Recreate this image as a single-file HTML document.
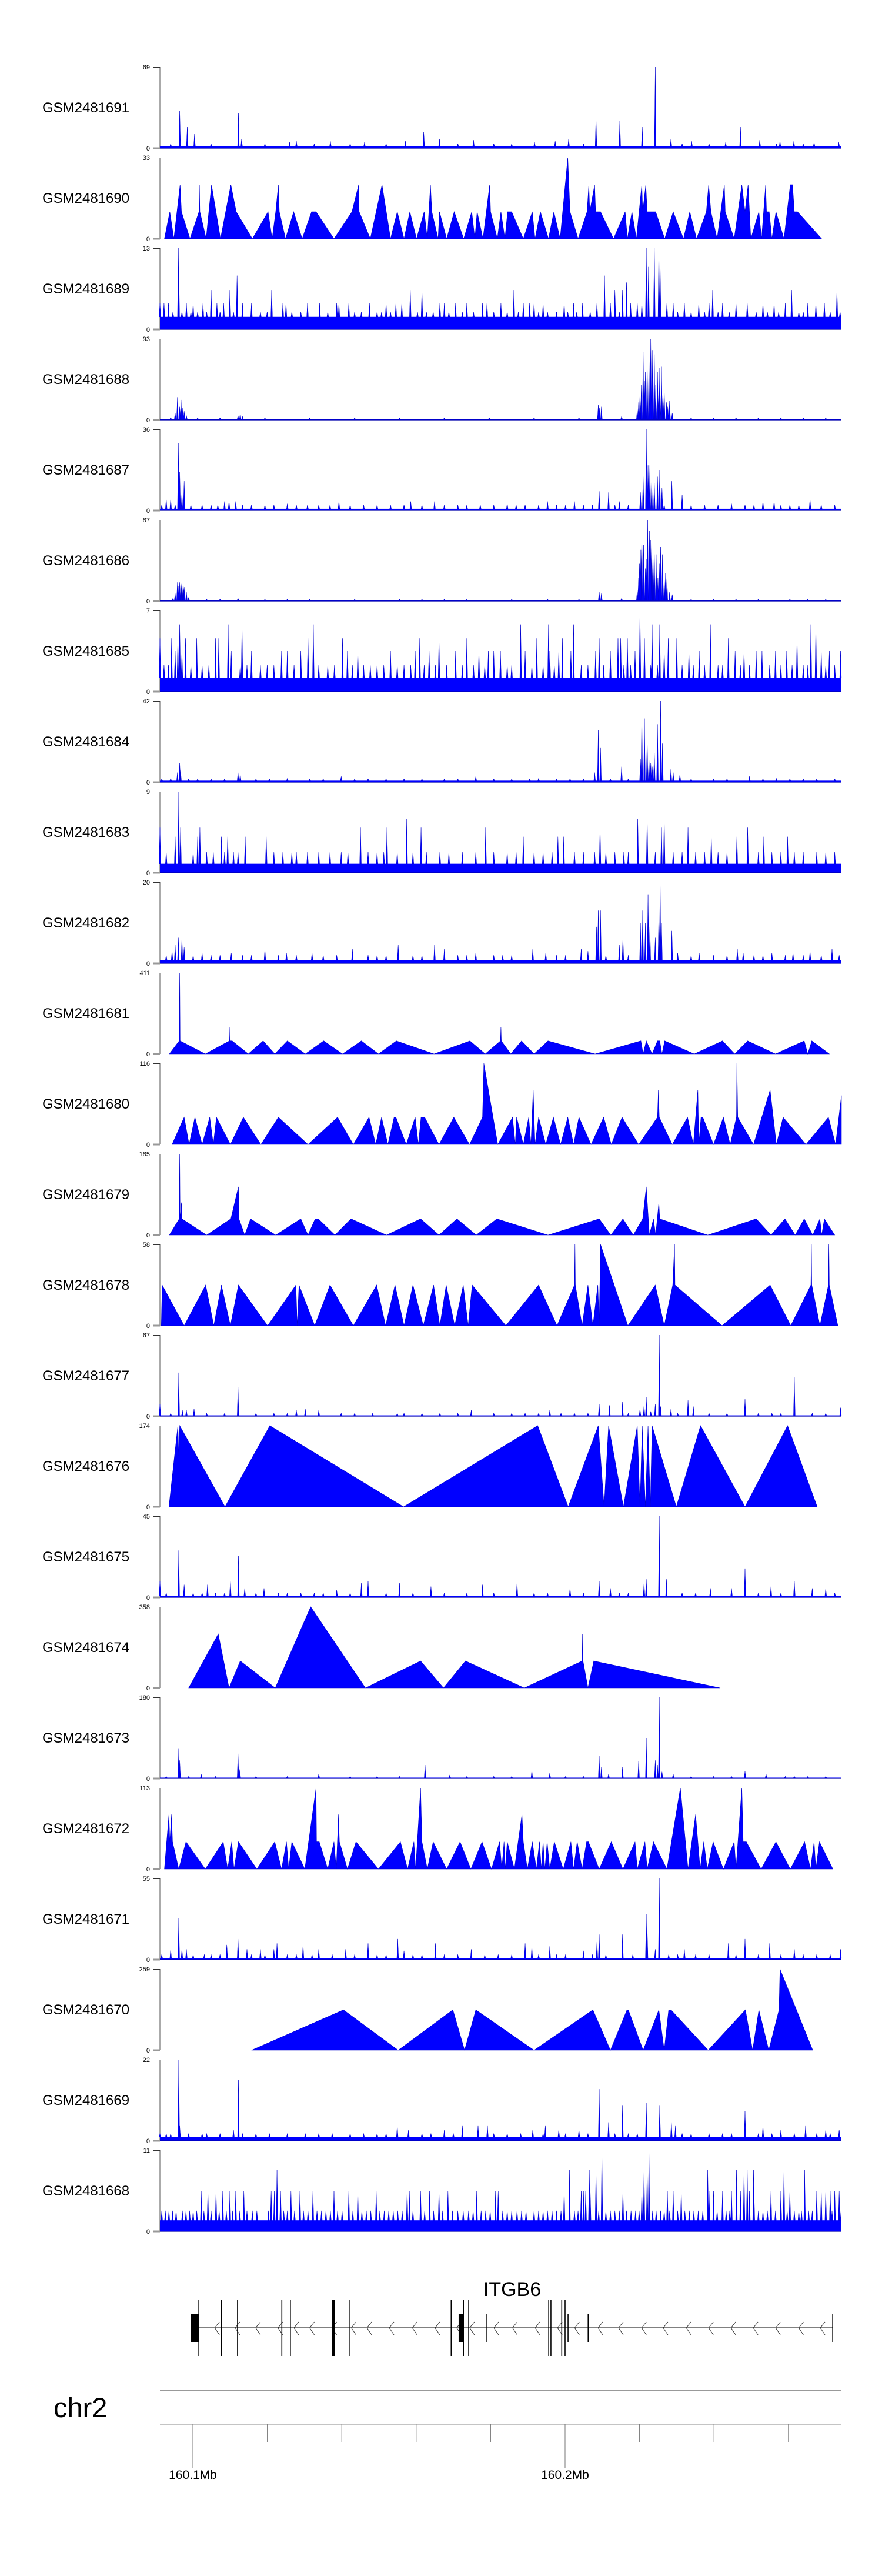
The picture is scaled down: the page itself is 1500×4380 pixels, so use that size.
<!DOCTYPE html>
<html><head><meta charset="utf-8"><title>Gviz data tracks</title>
<style>
html,body{margin:0;padding:0;background:#fff;}
svg{display:block;font-family:"Liberation Sans",Arial,sans-serif;}
</style></head>
<body>
<svg id="chart" width="1500" height="4380" viewBox="0 0 1500 4380" xmlns="http://www.w3.org/2000/svg">
<g id="tracks"></g>
<g id="gene"></g>
<g id="axis"></g>
</svg>
<script>
// ---------- data ----------
const trackNames=["GSM2481691","GSM2481690","GSM2481689","GSM2481688","GSM2481687","GSM2481686","GSM2481685","GSM2481684","GSM2481683","GSM2481682","GSM2481681","GSM2481680","GSM2481679","GSM2481678","GSM2481677","GSM2481676","GSM2481675","GSM2481674","GSM2481673","GSM2481672","GSM2481671","GSM2481670","GSM2481669","GSM2481668"];
const trackMax=[69,33,13,93,36,87,7,42,9,20,411,116,185,58,67,174,45,358,180,113,55,259,22,11];
const trackFloor=[1.5,0,2,1,0.8,1,1.2,0.8,1,0.8,0,0,0,0,0.7,0,0.8,0,2,0,1,0,1,1.5];

// triangle (interpolated) tracks: bin positions and values
const t1Pos=[26,38,47,54,61,64,83,103,104,105,119,131,151,174,186,222,257,266,274,280,282,296,314,333,354,364,404,444,459,460,485,511,530,545,560,573,588,605,612,619,622,636,639,655,672,693,711,718,723,736,751,753,768,776,785,791,800,826,846,852,864,882,894,908,925,930,948,968,972,974,985,987,998,1027,1053,1058,1068,1078,1090,1092,1099,1102,1121,1141,1160,1183,1197,1212,1234,1239,1244,1258,1274,1276,1296,1313,1320,1327,1333,1351,1357,1366,1368,1374,1380,1389,1407,1421,1426,1430,1437,1491];
const t1Val=[0,11,0,11,22,11,0,11,22,11,0,22,0,22,11,0,11,0,11,22,11,0,11,0,11,11,0,11,22,11,0,22,0,11,0,11,0,11,0,22,11,0,11,0,11,0,11,0,11,0,22,11,0,11,0,11,11,0,11,0,11,0,11,0,33,11,0,11,22,11,22,11,11,0,11,0,11,0,22,11,22,11,11,0,11,0,11,0,11,22,11,0,22,11,0,22,11,22,0,11,0,22,11,11,0,11,0,22,22,11,11,0];
const t10Pos=[37,59,60,61,117,171,172,173,177,213,246,272,300,340,381,423,465,503,543,627,707,741,775,776,777,798,822,850,881,986,1088,1093,1100,1113,1125,1130,1135,1141,1207,1270,1297,1326,1388,1452,1460,1469,1508];
const t10Val=[0,66,411,66,0,66,137,66,66,0,66,0,66,0,66,0,66,0,66,0,66,0,66,137,66,0,66,0,66,0,66,0,66,0,66,66,0,66,0,66,0,66,0,66,0,66,0];
const t11Pos=[43,70,81,94,110,127,135,142,173,202,241,280,346,412,447,482,497,510,524,538,542,565,585,592,598,606,638,671,706,735,738,769,802,808,811,826,838,843,848,852,860,876,893,909,925,938,950,977,1005,1022,1046,1083,1125,1127,1129,1158,1192,1205,1215,1217,1222,1226,1250,1272,1287,1301,1302,1304,1339,1376,1390,1405,1456,1506,1522,1535];
const t11Val=[0,39,0,39,0,39,0,39,0,39,0,39,0,39,0,39,0,39,0,39,39,0,39,0,39,39,0,39,0,39,116,0,39,0,39,0,39,0,78,0,39,0,39,0,39,0,39,0,39,0,39,0,39,78,39,0,39,0,78,0,39,39,0,39,0,39,116,39,0,78,0,39,0,39,0,70];
const t12Pos=[37,59,60,61,64,65,120,174,191,192,205,218,274,330,346,362,364,369,406,442,521,597,638,678,721,767,881,995,1021,1048,1071,1092,1100,1107,1116,1121,1128,1130,1237,1345,1378,1409,1432,1452,1471,1487,1491,1497,1520];
const t12Val=[0,37,185,37,74,37,0,37,110,37,0,37,0,37,0,37,37,37,0,37,0,37,0,37,0,37,0,37,0,37,0,37,110,0,37,0,74,37,0,37,0,37,0,37,0,37,0,37,0];
const t13Pos=[19,21,70,118,136,153,173,191,256,319,322,326,361,395,447,499,519,540,560,580,603,626,640,654,673,692,703,712,787,860,901,940,941,942,957,970,981,992,995,998,1059,1120,1140,1159,1163,1164,1269,1376,1422,1467,1468,1469,1487,1506,1507,1508,1527];
const t13Val=[0,29,0,29,0,29,0,29,0,29,0,29,0,29,0,29,0,29,0,29,0,29,0,29,0,29,0,29,0,29,0,29,58,29,0,29,0,29,0,58,0,29,0,29,58,29,0,29,0,29,58,29,0,29,58,29,0];
const t15Pos=[36,56,58,60,161,261,559,858,926,993,1006,1016,1049,1080,1086,1091,1098,1104,1109,1113,1167,1221,1320,1415,1481];
const t15Val=[0,174,110,174,0,174,0,174,0,174,0,174,0,174,0,174,0,174,0,174,0,174,0,174,0];
const t17Pos=[80,146,170,195,273,352,474,597,648,697,828,957,958,959,970,983,1265];
const t17Val=[0,238,0,119,0,358,0,119,0,119,0,119,238,119,0,119,0];
const t19Pos=[26,36,38,42,44,58,74,117,157,167,176,181,191,232,272,287,298,303,310,339,364,365,371,390,404,409,414,416,434,453,503,552,568,582,586,597,600,612,625,655,685,709,734,755,773,778,783,786,790,806,823,826,835,846,855,862,866,870,874,879,885,895,915,932,938,946,957,967,971,995,1022,1048,1075,1080,1097,1102,1116,1146,1176,1193,1210,1220,1228,1236,1249,1272,1296,1300,1313,1316,1323,1356,1389,1421,1453,1466,1474,1478,1486,1516];
const t19Val=[0,76,38,76,38,0,38,0,38,0,38,0,38,0,38,0,38,0,38,0,113,38,38,0,38,0,76,38,0,38,0,38,0,38,0,113,38,0,38,0,38,0,38,0,38,0,38,0,38,0,76,38,0,38,0,38,0,38,0,38,0,38,0,38,0,38,0,38,38,0,38,0,38,0,38,0,38,0,113,0,76,0,38,0,38,0,38,0,113,38,38,0,38,0,38,0,38,0,38,0];
const t21Pos=[220,425,547,669,695,720,850,981,1020,1057,1060,1093,1128,1140,1150,1155,1238,1321,1337,1351,1373,1396,1398,1471];
const t21Val=[0,129,0,129,0,129,0,129,0,129,129,0,129,0,129,129,0,129,0,129,0,129,259,0];

// spike (histogram) tracks: individual peaks
const t0Pos=[60,77,93,191,198,305,320,396,472,563,604,639,715,851,897,927,988,1041,1091,1120,1155,1201,1277,1310,1353,1398,1429,1474,1529];
const t0Val=[32,18,12,30,8,5,6,6,5,6,14,8,7,5,6,8,26,23,18,69,8,6,5,18,7,6,6,5,5];
const t3Pos=[40,50,55,60,63,66,70,75,190,195,200,993,996,1000,1045,1080,1083,1086,1089,1093,1096,1098,1102,1106,1110,1114,1118,1121,1125,1128,1130,1134,1137,1140,1145,1148,1152,1158];
const t3Val=[3,8,26,15,23,14,10,5,5,7,4,17,14,15,4,12,20,30,40,78,45,55,65,70,93,80,75,40,55,35,60,61,30,35,20,15,22,8];
const t4Pos=[30,40,57,60,65,70,160,170,185,300,415,575,628,790,880,940,995,1016,1040,1087,1093,1100,1104,1108,1112,1118,1125,1130,1135,1157,1180,1290,1360,1385,1465];
const t4Val=[5,5,30,17,8,13,4,4,4,3,4,4,4,3,4,4,8.5,8,4,8,15,36,20,20,13,12,15,18,10,13,7,3,4,4,5];
const t5Pos=[45,50,55,58,60,63,65,68,70,75,80,190,300,600,995,1000,1045,1080,1083,1085,1088,1090,1094,1098,1100,1103,1107,1110,1112,1115,1118,1122,1126,1129,1132,1136,1140,1143,1146,1152,1158];
const t5Val=[3,8,20,16,20,18,22,17,15,10,4,3,2,2,10,8,3,12,25,40,55,75,60,35,45,87,75,65,60,55,50,50,25,40,58,50,25,30,24,10,7];
const t7Pos=[40,55,60,62,190,195,300,420,720,860,985,993,998,1045,1087,1090,1096,1102,1106,1110,1114,1118,1125,1132,1136,1155,1160,1175,1330,1390];
const t7Val=[2,5,10,6,5,4,2,3,3,2,5,27,18,8,12,35,33,22,12,10,8,15,30,42,20,7,5,4,3,2];
const t9Pos=[43,50,57,65,70,110,175,250,298,355,445,547,628,650,720,847,876,955,970,989,993,998,1040,1048,1087,1092,1098,1104,1108,1120,1128,1131,1134,1157,1170,1218,1303,1316,1380,1427,1465,1514];
const t9Val=[3,4.5,6.3,6.3,4,2.6,2.6,3.5,2.6,2.6,3.5,4.5,4.5,3.5,2.6,3.5,2.6,3.5,3,9,13,13,4.5,6.3,10,13,10,17,9,6.3,12,20,10,8,2.6,2.6,3.5,2.6,2.6,2.6,3,3.5];
const t14Pos=[16,58,66,75,92,190,320,340,370,710,885,995,1018,1047,1086,1095,1100,1110,1120,1129,1132,1155,1193,1205,1320,1430,1533];
const t14Val=[10,36,5,5,6,24,5,6,5,5,5,10,9,12,6,9,16,4,10,67,8,6,13,8,14,32,7];
const t16Pos=[16,58,70,122,173,191,205,248,410,465,480,550,620,735,812,930,995,1020,1095,1100,1129,1145,1243,1290,1320,1378,1430,1470,1500];
const t16Val=[9,26,7,7,9,23,5,5,4,8,9,8,6,7,8,5,9,5,8,10,45,10,5,5,16,6,9,5,5];
const t18Pos=[58,60,108,190,194,370,607,662,845,885,995,1000,1016,1047,1083,1100,1120,1125,1129,1135,1160,1320,1367,1410,1460];
const t18Val=[67,40,10,55,20,10,30,8,18,12,50,25,10,25,38,90,40,30,180,15,10,16,10,5,5];
const t20Pos=[40,58,65,75,165,190,210,240,270,277,335,370,430,480,546,560,630,710,830,845,885,960,990,995,1047,1100,1102,1120,1129,1185,1283,1320,1375,1430,1533];
const t20Val=[7,28,7,7,10,14,7,7,7,11,10,7,7,11,14,6,11,7,11,9,9,6,12,17,17,31,20,7,55,7,11,14,11,7,7];
const t22Pos=[16,30,58,60,110,150,180,191,230,545,570,650,690,725,746,847,875,905,950,995,1016,1047,1100,1130,1156,1165,1320,1360,1400,1455,1500,1530];
const t22Val=[2,2,22,4,2,2,3,16.5,2,4,3,3,4,4,4,3,4,3,3,14,5,9.5,10.3,9.5,5,4,8,4,3,4,3,3];

// background read-level groups (value, positions)
const t0FillVal=4, t0FillPos=[40,130,250,360,440,520,680,760,800,960,1180,1240,1390,1450];
const t3FillVal=2.5, t3FillPos=[100,150,250,350,450,550,650,750,850,950,1200,1250,1300,1350,1400,1450,1500];
const t4FillVal=2.5, t4FillPos=[20,50,85,110,130,145,200,220,250,270,320,345,370,395,440,470,500,530,560,600,650,680,700,730,760,810,830,860,900,920,960,980,1030,1060,1140,1200,1230,1260,1320,1340,1400,1420,1440,1490,1520];
const t5FillVal=2, t5FillPos=[120,150,250,350,450,550,650,700,800,880,950,1200,1250,1300,1350,1420,1460,1500];
const t7FillVal=1.8, t7FillPos=[20,80,100,130,160,230,260,350,380,450,480,520,560,600,650,680,760,800,840,900,930,960,1020,1060,1200,1250,1280,1360,1420,1450,1480,1520];
const t9FillVal=2, t9FillPos=[30,90,130,150,200,220,280,320,380,410,480,500,520,580,600,680,700,760,780,800,900,920,1010,1060,1200,1250,1280,1340,1360,1410,1450,1490,1530];
const t14FillVal=2.5, t14FillPos=[40,120,160,230,270,300,420,450,490,545,560,600,640,680,760,800,830,860,910,940,970,1060,1170,1240,1280,1350,1380,1400,1470,1500];
const t16FillVal=2.5, t16FillPos=[30,90,110,140,160,230,280,300,330,360,380,440,520,580,650,700,760,850,880,960,1040,1060,1180,1210,1350,1400,1520];
const t18FillVal=5, t18FillPos=[30,80,140,230,300,440,500,550,700,760,800,920,960,1200,1250,1290,1430,1500];
const t20FillVal=3.5, t20FillPos=[20,90,115,130,150,220,250,300,320,355,400,450,500,520,580,600,650,680,740,770,800,860,900,920,980,1010,1070,1150,1170,1210,1240,1300,1350,1400,1450,1480,1510];
const t22FillVal=2, t22FillPos=[40,80,120,200,260,300,340,370,400,440,470,500,520,600,620,670,760,790,820,870,920,970,1030,1060,1080,1180,1200,1240,1270,1290,1350,1380,1430,1480,1510];

// dense tracks: positions per read level
const t2Levels=[13,10,8.6,7.5,6.3,4.2,2.8];
const t2LevelPos=[[57,1100,1118,1128],[58,1105,1131],[188,1007],[1056],[130,172,265,574,600,805,1030,1047,1248,1424,1525],
[16,25,35,75,90,112,143,158,200,220,290,297,345,372,410,415,437,483,520,542,555,640,650,675,700,735,745,776,826,840,850,870,917,938,958,990,1020,1065,1080,1090,1146,1160,1185,1217,1240,1270,1300,1325,1360,1385,1410,1460,1478,1497],
[45,65,85,100,120,150,180,240,255,310,330,390,450,465,500,510,530,590,610,625,660,690,715,760,790,815,860,880,900,925,945,975,1040,1170,1200,1230,1260,1285,1345,1370,1395,1440,1450,1510,1532]];
const t6Levels=[7,5.8,4.6,3.5,2.3];
const t6LevelPos=[[1086],[60,168,199,358,820,882,938,1113,1130,1243,1467,1478],
[16,42,56,73,98,140,147,346,423,595,638,700,856,913,995,1037,1043,1058,1096,1149,1168,1283,1436],
[50,65,175,220,287,300,330,434,457,530,585,616,675,727,748,760,775,830,885,905,932,987,1020,1075,1140,1195,1218,1298,1318,1345,1358,1388,1413,1490,1508,1533],
[25,35,85,110,125,195,210,240,255,270,315,370,390,405,445,470,485,500,515,545,560,575,605,630,655,690,715,740,790,800,845,870,895,955,970,1005,1050,1065,1110,1125,1180,1205,1230,1260,1270,1310,1330,1375,1400,1425,1450,1460,1500,1520]];
const t8Levels=[9,6,5,4,2.3];
const t8LevelPos=[[58],[566,1081,1102,1140],[16,62,105,463,522,598,742,997,1134,1193,1326],[50,153,167,206,253,826,903,916,1245,1302,1362,1415,100],
[30,90,120,135,160,180,190,270,290,310,320,345,370,395,420,435,480,500,515,545,580,610,640,660,690,720,760,790,810,850,870,890,940,960,985,1010,1030,1050,1060,1120,1160,1180,1210,1230,1260,1280,1350,1380,1400,1430,1450,1480,1500,1520]];
const t23Levels=[11,8.3,5.5,2.8];
const t23LevelPos=[[1001,1106],[277,929,973,988,1095,1102,1237,1301,1318,1325,1339,1407,1453],
[108,123,141,156,172,185,203,264,271,285,308,328,357,404,437,457,498,567,572,597,617,638,658,722,764,770,917,955,960,965,975,1048,1090,1147,1160,1178,1240,1250,1270,1290,1310,1330,1340,1378,1400,1420,1480,1490,1500,1510,1520,1530],
[20,28,36,44,52,66,74,82,90,98,114,130,148,164,178,194,210,222,232,258,292,300,316,336,346,366,376,386,396,412,422,446,466,476,486,506,516,526,536,546,556,580,606,626,646,668,680,692,704,714,732,742,752,780,790,800,812,822,832,850,860,870,880,890,900,910,940,948,994,1010,1020,1030,1040,1056,1066,1076,1084,1114,1122,1132,1140,1152,1170,1186,1196,1206,1216,1226,1258,1278,1286,1350,1360,1370,1388,1414,1430,1440,1446,1462,1470,1514,1532]];

// gene model (kb, chr2)
const geneStart=160101.6, geneEnd=160271.9;
const exonTall=[160101.6,160107.7,160112.0,160123.9,160126.2,160142.0,160169.4,160172.7,160174.1,160195.6,160196.2,160199.1,160200.0];
const exonShort=[160179.0,160200.8,160206.2,160271.9];
const utrBoxStart=[160099.5,160171.4,160137.4], utrBoxEnd=[160101.6,160172.7,160138.2], utrBoxTall=[0,0,1];
const chevronKb=[160106.5,160112.0,160117.5,160123.5,160127.8,160132.0,160138.0,160143.2,160147.4,160153.4,160159.6,160165.7,160171.5,160175.0,160181.5,160186.5,160192.6,160198.6,160203.2,160209.5,160215.0,160221.2,160227.0,160233.2,160239.2,160245.2,160251.2,160257.2,160263.4,160269.2,160275.5];
const axisTicks=[160100,160120,160140,160160,160180,160200,160220,160240,160260];
const axisLabels=["160.1Mb","160.2Mb"], axisLabelKb=[160100,160200];

// ---------- scales ----------
const NS="http://www.w3.org/2000/svg";
const X0=272, X1=1431, B0=16, B1=1535;
function xb(b){return X0+(b-B0)/(B1-B0)*(X1-X0);}
function xkb(kb){return 328+(kb-160100)*6.33;}
function topOf(k){return 114+154*k;}
function zeroOf(k){return 252+154*k;}
function yv(k,v){return zeroOf(k)-v/trackMax[k]*138;}
function mk(tag,attrs,parent){const e=document.createElementNS(NS,tag);for(const a in attrs)e.setAttribute(a,attrs[a]);parent.appendChild(e);return e;}

const gT=document.getElementById('tracks');
const BLUE="#0000ff";

function frame(k){
  const g=mk('g',{},gT);
  
  
  const lab=mk('text',{x:72,y:(topOf(k)+zeroOf(k))/2+8,'font-size':24,fill:'#000'},g);
  
  
  lab.textContent=trackNames[k];
  const ax=mk('line',{x1:272,x2:272,y1:topOf(k),y2:zeroOf(k),stroke:'#555','stroke-width':1},g);
  
  
  const tk=mk('line',{x1:261,x2:272,y1:topOf(k)+0.5,y2:topOf(k)+0.5,stroke:'#333','stroke-width':1},g);
  
  
  const tz=mk('line',{x1:261,x2:272,y1:zeroOf(k),y2:zeroOf(k),stroke:'#999','stroke-width':3},g);
  
  
  const tl=mk('text',{x:255,y:topOf(k)+4,'font-size':11,'text-anchor':'end',fill:'#000'},g);
  
  
  tl.textContent=trackMax[k];
  const tl0=mk('text',{x:255,y:zeroOf(k)+4,'font-size':11,'text-anchor':'end',fill:'#000'},g);
  
  
  tl0.textContent='0';
  return g;
}
function drawTri(k,pos,val){
  const g=frame(k);
  let d='M'+xb(pos[0]).toFixed(1)+','+zeroOf(k);
  for(let i=0;i<pos.length;i++)d+=' L'+xb(pos[i]).toFixed(1)+','+yv(k,val[i]).toFixed(1);
  d+=' L'+xb(pos[pos.length-1]).toFixed(1)+','+zeroOf(k)+' Z';
  const p=mk('path',{d:d,fill:BLUE,stroke:'#0000cc','stroke-width':0.6},g);
  
  
}
function spikePath(k,pos,vals,fl){
  let d='';const hw=1.4;const yf=yv(k,fl);
  for(let i=0;i<pos.length;i++){
    const x=xb(pos[i]);
    d+='M'+(x-hw).toFixed(1)+','+yf.toFixed(1)+' L'+x.toFixed(1)+','+yv(k,vals[i]).toFixed(1)+' L'+(x+hw).toFixed(1)+','+yf.toFixed(1)+' Z ';
  }
  return d;
}
function drawNoise(k,groups){
  const g=frame(k);
  const fl=trackFloor[k];
  const r=mk('rect',{x:X0,y:yv(k,fl),width:X1-X0,height:zeroOf(k)-yv(k,fl)+0.5,fill:BLUE},g);
  
  
  const bl=mk('line',{x1:X0,x2:X1,y1:zeroOf(k),y2:zeroOf(k),stroke:'#0000aa','stroke-width':1.2},g);
  
  
  let d='';
  groups.forEach(gr=>{d+=spikePath(k,gr[0],gr[1],fl);});
  const p=mk('path',{d:d,fill:BLUE,stroke:'#0000cc','stroke-width':0.5,'stroke-linejoin':'miter'},g);
  
  
}
function lv(levels,levelPos){return levels.map((h,i)=>[levelPos[i],levelPos[i].map(()=>h)]);}
function fill(pos,v){return [pos,pos.map(()=>v)];}

drawNoise(0,[fill(t0FillPos,t0FillVal),[t0Pos,t0Val]]);
drawTri(1,t1Pos,t1Val);
drawNoise(2,lv(t2Levels,t2LevelPos));
drawNoise(3,[fill(t3FillPos,t3FillVal),[t3Pos,t3Val]]);
drawNoise(4,[fill(t4FillPos,t4FillVal),[t4Pos,t4Val]]);
drawNoise(5,[fill(t5FillPos,t5FillVal),[t5Pos,t5Val]]);
drawNoise(6,lv(t6Levels,t6LevelPos));
drawNoise(7,[fill(t7FillPos,t7FillVal),[t7Pos,t7Val]]);
drawNoise(8,lv(t8Levels,t8LevelPos));
drawNoise(9,[fill(t9FillPos,t9FillVal),[t9Pos,t9Val]]);
drawTri(10,t10Pos,t10Val);
drawTri(11,t11Pos,t11Val);
drawTri(12,t12Pos,t12Val);
drawTri(13,t13Pos,t13Val);
drawNoise(14,[fill(t14FillPos,t14FillVal),[t14Pos,t14Val]]);
drawTri(15,t15Pos,t15Val);
drawNoise(16,[fill(t16FillPos,t16FillVal),[t16Pos,t16Val]]);
drawTri(17,t17Pos,t17Val);
drawNoise(18,[fill(t18FillPos,t18FillVal),[t18Pos,t18Val]]);
drawTri(19,t19Pos,t19Val);
drawNoise(20,[fill(t20FillPos,t20FillVal),[t20Pos,t20Val]]);
drawTri(21,t21Pos,t21Val);
drawNoise(22,[fill(t22FillPos,t22FillVal),[t22Pos,t22Val]]);
drawNoise(23,lv(t23Levels,t23LevelPos));

// ---------- gene track ----------
const gG=document.getElementById('gene');
const gname=mk('text',{x:871,y:3904,'font-size':34,'text-anchor':'middle',fill:'#000'},gG);


gname.textContent='ITGB6';
const gl=mk('line',{x1:xkb(geneStart),x2:xkb(geneEnd),y1:3958,y2:3958,stroke:'#000','stroke-width':1},gG);


chevronKb.filter(c=>c<geneEnd).forEach(c=>{
  const x=xkb(c);
  const ch=mk('polyline',{points:(x+4)+',3948 '+(x-4)+',3958 '+(x+4)+',3970',fill:'none',stroke:'#333','stroke-width':1},gG);
  
  
});
exonTall.forEach(e=>{
  const ex=mk('line',{x1:xkb(e),x2:xkb(e),y1:3911,y2:4006,stroke:'#000','stroke-width':1.6},gG);
  
  
});
exonShort.forEach(e=>{
  const ex=mk('line',{x1:xkb(e),x2:xkb(e),y1:3935,y2:3982,stroke:'#000','stroke-width':1.6},gG);
  
  
});
utrBoxStart.forEach((s,i)=>{
  const tall=utrBoxTall[i];
  const b=mk('rect',{x:xkb(s),y:tall?3911:3935,width:Math.max(2,xkb(utrBoxEnd[i])-xkb(s)),height:tall?95:47,fill:'#000'},gG);
  
  
});

// ---------- genome axis ----------
const gA=document.getElementById('axis');
const chr=mk('text',{x:91,y:4110,'font-size':47,fill:'#000'},gA);


chr.textContent='chr2';
const a1=mk('line',{x1:X0,x2:X1,y1:4064,y2:4064,stroke:'#999','stroke-width':2},gA);


const a2=mk('line',{x1:X0,x2:X1,y1:4122,y2:4122,stroke:'#888','stroke-width':1},gA);


axisTicks.forEach(t=>{
  const major=axisLabelKb.includes(t);
  const tk=mk('line',{x1:xkb(t),x2:xkb(t),y1:4122,y2:major?4197:4153,stroke:'#777','stroke-width':1},gA);
  
  
});
axisLabels.forEach((l,i)=>{
  const t=mk('text',{x:xkb(axisLabelKb[i]),y:4215,'font-size':21,'text-anchor':'middle',fill:'#000'},gA);
  
  
  t.textContent=l;
});
</script>
</body></html>
